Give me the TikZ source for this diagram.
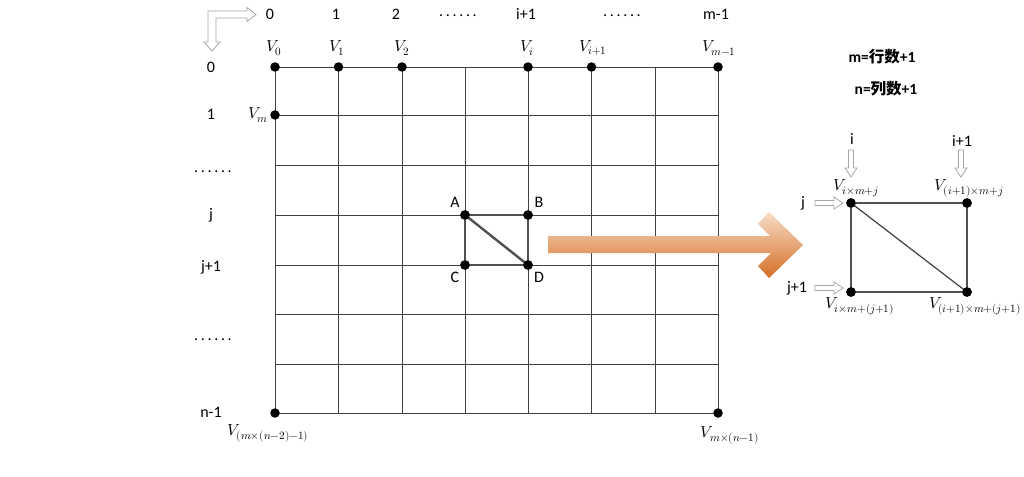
\documentclass[tikz,border=0pt]{standalone}
\usepackage{fontspec}
\usepackage{unicode-math}
\setmainfont{Carlito}
\setmathfont{Latin Modern Math}
\newfontfamily\cjk{Noto Sans CJK SC}
\definecolor{gridc}{HTML}{404040}
\definecolor{boxc}{HTML}{505050}
\definecolor{hollowc}{HTML}{A6A6A6}
\definecolor{orlight}{HTML}{F8DDC6}
\definecolor{ordark}{HTML}{D46E25}
\begin{document}
\begin{tikzpicture}[x=1pt,y=-1pt,
  gridline/.style={draw=gridc,line width=0.9pt},
  boxline/.style={draw=boxc,line width=2.4pt},
  boxline2/.style={draw=boxc,line width=1.8pt},
  vdot/.style={circle,fill=black,inner sep=0pt,minimum size=9.5pt},
  lab/.style={font=\fontsize{16}{18}\selectfont,inner sep=0pt},
  vlab/.style={font=\fontsize{16}{18}\selectfont,inner sep=0pt},
  hollow/.style={draw=hollowc,fill=white,line width=0.8pt,line join=miter}]
\useasboundingbox[fill=white] (0,0) rectangle (1024,476);
% grid
\foreach \x in {275,338.5,402,465,528,591.5,655,718}
  \draw[gridline] (\x,67) -- (\x,413);
\foreach \y in {67,115,165,215,265,314.5,364,413}
  \draw[gridline] (275,\y) -- (718,\y);
% top-left L hollow arrow
\draw[hollow] (208,11) -- (247,11) -- (247,7.5) -- (256,14.5) -- (247,21.5) -- (247,18) -- (216,18) -- (216,42) -- (220,42) -- (212,51) -- (204,42) -- (208,42) -- cycle;
% column labels
\node[lab] (c0) at (270,14) {0};
\node[lab] (c1) at (336,14) {1};
\node[lab] (c2) at (396,14) {2};
\node[lab] (cd1) at (458,16) {.\,.\,.\,.\,.\,.};
\node[lab] (ci) at (526,14) {i+1};
\node[lab] (cd2) at (622,16) {.\,.\,.\,.\,.\,.};
\node[lab] (cm) at (716,14) {m-1};
% row labels
\node[lab] (r0) at (211,67) {0};
\node[lab] (r1) at (211,114) {1};
\node[lab] (rd1) at (213,172) {.\,.\,.\,.\,.\,.};
\node[lab] (rj) at (211,215) {j};
\node[lab] (rj1) at (211,267) {j+1};
\node[lab] (rd2) at (213,340) {.\,.\,.\,.\,.\,.};
\node[lab] (rn) at (211,412) {n-1};
% dots on grid
\node[vdot] (v0) at (275,67) {};
\node[vdot] (v1) at (338.5,67) {};
\node[vdot] (v2) at (402,67) {};
\node[vdot] (vi) at (528,67) {};
\node[vdot] (vi1) at (591.5,67) {};
\node[vdot] (vm1) at (718,67) {};
\node[vdot] (vm) at (275,115) {};
\node[vdot] (vbl) at (275,413) {};
\node[vdot] (vbr) at (718,413) {};
\node[vlab] at (274,48) {$V_0$};
\node[vlab] at (337,48) {$V_1$};
\node[vlab] at (402,48) {$V_2$};
\node[vlab] at (527,48) {$V_i$};
\node[vlab] at (593,48) {$V_{i+1}$};
\node[vlab] at (719,48) {$V_{m-1}$};
\node[vlab] at (258,115) {$V_m$};
\node[vlab] at (268,433) {$V_{(m\times(n-2)-1)}$};
\node[vlab] at (730,435) {$V_{m\times(n-1)}$};
% square ABCD
\node[vdot] (A) at (465,215) {};
\node[vdot] (B) at (528,215) {};
\node[vdot] (C) at (465,265) {};
\node[vdot] (D) at (528,265) {};
\draw[boxline] (A.center) -- (B.center) -- (D.center) -- (C.center) -- cycle;
\draw[boxline] (A.center) -- (D.center);
\node[vdot] at (465,215) {};
\node[vdot] at (528,215) {};
\node[vdot] at (465,265) {};
\node[vdot] at (528,265) {};
\node[lab] at (455,202) {A};
\node[lab] at (539,202) {B};
\node[lab] at (455,277) {C};
\node[lab] at (539,277) {D};
% orange arrow
\shade[top color=orlight,bottom color=ordark]
  (548,236) -- (770,236) -- (758,224) -- (769,212) -- (803,245) -- (769,278) -- (758,266) -- (771,253) -- (548,253) -- cycle;
% right formulas
\node[font=\fontsize{15.5}{17}\selectfont\bfseries,inner sep=0pt] (fm) at (882,57) {m={\cjk 行数}+1};
\node[font=\fontsize{15.5}{17}\selectfont\bfseries,inner sep=0pt] (fn) at (886,89) {n={\cjk 列数}+1};
% right diagram
\node[vdot] (P) at (851,203) {};
\node[vdot] (Q) at (967,203) {};
\node[vdot] (R) at (851,292) {};
\node[vdot] (S) at (967,292) {};
\draw[boxline2] (P.center) -- (Q.center) -- (S.center) -- (R.center) -- cycle;
\draw[gridline,line width=1.2pt] (P.center) -- (S.center);
\node[vdot] at (851,203) {};
\node[vdot] at (967,203) {};
\node[vdot] at (851,292) {};
\node[vdot] at (967,292) {};
\node[lab] (li) at (852,139) {i};
\node[lab] (li1) at (962,141) {i+1};
\node[lab] (lj) at (803,203) {j};
\node[lab] (lj1) at (797,288) {j+1};
% hollow small arrows
\foreach \xx in {851,961}
  \draw[hollow] (\xx-2.5,150) -- (\xx+2.5,150) -- (\xx+2.5,168) -- (\xx+6,168) -- (\xx,177) -- (\xx-6,168) -- (\xx-2.5,168) -- cycle;
\foreach \yy in {203,288}
  \draw[hollow] (815,\yy-2.5) -- (834,\yy-2.5) -- (834,\yy-6) -- (843,\yy) -- (834,\yy+6) -- (834,\yy+2.5) -- (815,\yy+2.5) -- cycle;
\node[vlab] at (856,188) {$V_{i\times m+j}$};
\node[vlab] at (969,188) {$V_{(i+1)\times m+j}$};
\node[vlab] at (860,306) {$V_{i\times m+(j+1)}$};
\node[vlab] at (975,306) {$V_{(i+1)\times m+(j+1)}$};
\end{tikzpicture}
\end{document}
